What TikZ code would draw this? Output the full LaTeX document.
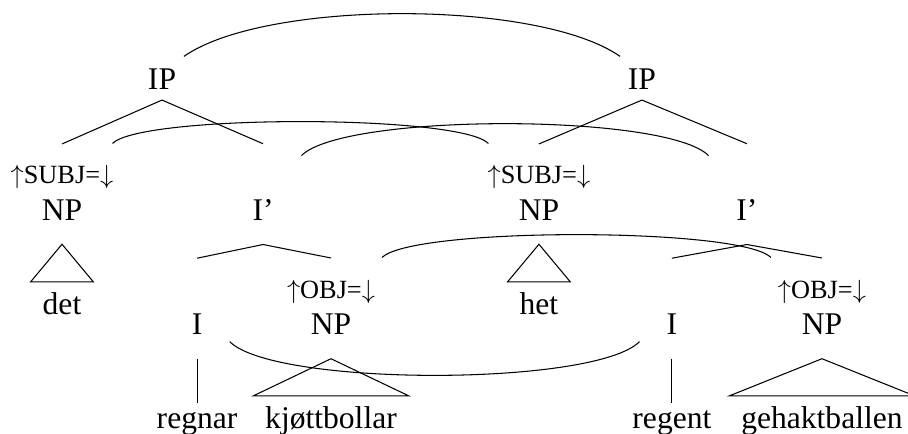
\documentclass[tikz,border=0pt]{standalone}
\usepackage{fontspec}
\setmainfont{Liberation Serif}
\usetikzlibrary{positioning}

\begin{document}
\begin{tikzpicture}[
    on grid, thin,
    cat/.style={font=\fontsize{12}{14}\selectfont, inner sep=1.5pt, text height=8pt, text depth=2.5pt},
    ann/.style={font=\fontsize{10}{12}\selectfont, inner sep=1.5pt, text height=7pt, text depth=2pt},
  ]
  \useasboundingbox (-2.164,1.092) rectangle (9.963,-4.704);
  \node[cat] (ip1) at (0,0) {IP};
  \node[cat, right=6.41cm of ip1] (ip2) {IP};

  \node[ann, below left=1.277cm and 1.336cm of ip1] (subj1) {$\uparrow$SUBJ=$\downarrow$};
  \node[cat, below=0.473cm of subj1] (np1) {NP};
  \node[cat, below right=1.75cm and 1.349cm of ip1] (ib1) {I’};
  \node[cat, below=1.255cm of np1] (det) {det};
  \node[ann, below right=1.05cm and 0.908cm of ib1] (obj1) {$\uparrow$OBJ=$\downarrow$};
  \node[cat, below=0.479cm of obj1] (npo1) {NP};
  \node[cat, below left=1.529cm and 0.881cm of ib1] (i1) {I};
  \node[cat, below=1.249cm of i1] (regnar) {regnar};
  \node[cat, below=1.249cm of npo1] (kjott) {kjøttbollar};

  \node[ann, below left=1.277cm and 1.376cm of ip2] (subj2) {$\uparrow$SUBJ=$\downarrow$};
  \node[cat, below=0.473cm of subj2] (np2) {NP};
  \node[cat, below right=1.75cm and 1.402cm of ip2] (ib2) {I’};
  \node[cat, below=1.255cm of np2] (het) {het};
  \node[ann, below right=1.05cm and 1.002cm of ib2] (obj2) {$\uparrow$OBJ=$\downarrow$};
  \node[cat, below=0.479cm of obj2] (npo2) {NP};
  \node[cat, below left=1.529cm and 1.002cm of ib2] (i2) {I};
  \node[cat, below=1.249cm of i2] (regent) {regent};
  \node[cat, below=1.249cm of npo2] (gehakt) {gehaktballen};

  \draw (ip1.south) -- ([yshift=6.5pt]subj1.north);
  \draw (ip1.south) -- ([yshift=19.3pt]ib1.north);
  \draw ([yshift=-5.1pt]ib1.south) -- ([yshift=19.3pt]i1.north);
  \draw ([yshift=-5.1pt]ib1.south) -- ([yshift=6.5pt]obj1.north);
  \draw ([yshift=-5pt]np1.south) -- ([xshift=-2.9pt,yshift=2.5pt]det.north west)
    -- ([xshift=2.9pt,yshift=2.5pt]det.north east) -- cycle;
  \draw ([yshift=-5pt]i1.south) -- (regnar.north);
  \draw ([yshift=-5pt]npo1.south) -- ([xshift=-2.9pt,yshift=2.5pt]kjott.north west)
    -- ([xshift=2.9pt,yshift=2.5pt]kjott.north east) -- cycle;

  \draw (ip2.south) -- ([yshift=6.5pt]subj2.north);
  \draw (ip2.south) -- ([yshift=19.3pt]ib2.north);
  \draw ([yshift=-5.1pt]ib2.south) -- ([yshift=19.3pt]i2.north);
  \draw ([yshift=-5.1pt]ib2.south) -- ([yshift=6.5pt]obj2.north);
  \draw ([yshift=-5pt]np2.south) -- ([xshift=-2.9pt,yshift=2.5pt]het.north west)
    -- ([xshift=2.9pt,yshift=2.5pt]het.north east) -- cycle;
  \draw ([yshift=-5pt]i2.south) -- (regent.north);
  \draw ([yshift=-5pt]npo2.south) -- ([xshift=-2.9pt,yshift=2.5pt]gehakt.north west)
    -- ([xshift=2.9pt,yshift=2.5pt]gehakt.north east) -- cycle;

  \draw ([xshift=1.3pt,yshift=2.7pt]ip1.north east) to[out=35, in=145, looseness=0.584]
    ([xshift=-1.3pt,yshift=2.7pt]ip2.north west);
  \draw ([xshift=-2pt,yshift=6.7pt]subj1.north east) to[out=45, in=135, looseness=0.281]
    ([xshift=2pt,yshift=6.7pt]subj2.north west);
  \draw ([xshift=14.6pt,yshift=14.8pt]ib1.north) to[out=45, in=135, looseness=0.379]
    ([xshift=-14.6pt,yshift=14.8pt]ib2.north);
  \draw ([xshift=1pt,yshift=6.7pt]obj1.north east) to[out=45, in=135, looseness=0.284]
    ([xshift=-1pt,yshift=6.7pt]obj2.north west);
  \draw ([xshift=8.7pt,yshift=1.5pt]i1.south east) to[out=-45, in=-135, looseness=0.398]
    ([xshift=-8.6pt,yshift=1.5pt]i2.south west);
\end{tikzpicture}
\end{document}
